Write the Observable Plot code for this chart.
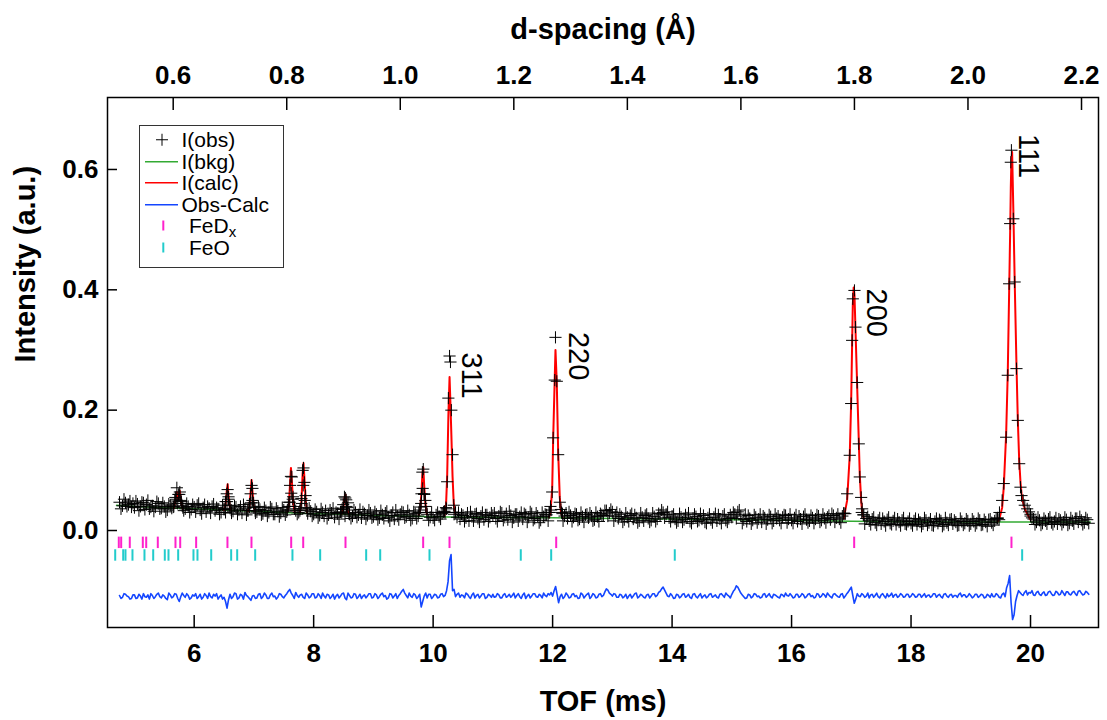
<!DOCTYPE html>
<html><head><meta charset="utf-8">
<script src="https://cdn.jsdelivr.net/npm/d3@7"></script>
<script src="https://cdn.jsdelivr.net/npm/@observablehq/plot@0.6"></script>
<style>
body{margin:0;background:#fff;}
#wrap{position:relative;width:1107px;height:720px;font-family:"Liberation Sans",Arial,Helvetica,sans-serif;}
#legend{position:absolute;left:139px;top:125px;width:145px;height:143px;box-sizing:border-box;border:1px solid #333;background:#fff;padding-top:3px;}
.row{position:relative;height:21.5px;color:#000;}
.row svg{position:absolute;left:5px;top:0;}
.row span{position:absolute;left:41.5px;top:0;display:inline-block;height:21px;line-height:21px;font-size:21px;white-space:nowrap;overflow:visible;}
.row span.ind{left:49px;}
.row sub{font-size:15px;vertical-align:-4px;line-height:0;}
</style></head>
<body><div id="wrap"></div>
<script>
// ---------- data ----------
// observed intensity on a regular TOF grid (ms): first bin 4.75, bin width 0.05; null = under a strong peak (listed below)
const tofStart = 4.75, tofStep = 0.05;
const obsBand = [
0.047,0.041,0.046,0.043,0.039,
0.038,0.044,0.040,0.046,0.043,0.036,0.041,0.039,0.045,0.037,0.040,0.034,0.042,0.039,0.052,0.060,0.041,0.036,0.040,0.035,
0.039,0.042,0.034,0.038,0.031,0.037,0.040,0.033,0.036,0.030,0.035,0.048,0.037,0.032,0.039,0.034,0.029,0.036,0.033,0.046,
0.038,0.031,0.035,0.028,0.033,0.030,0.036,0.027,0.032,0.029,0.034,0.031,0.047,0.052,0.033,0.030,0.045,0.050,0.028,0.032,
0.027,0.031,0.025,0.030,0.033,0.026,0.029,0.022,0.028,0.031,0.037,0.040,0.027,0.024,0.030,0.026,0.021,0.028,0.025,0.029,
0.023,0.027,0.021,0.026,0.029,0.022,0.025,0.019,0.024,0.027,0.030,0.023,0.026,0.020,0.028,0.024,0.045,0.060,0.027,0.022,
0.021,0.026,0.023,0.028,0.030,null,null,0.027,0.022,0.019,0.025,0.021,0.016,0.023,0.027,0.020,0.024,0.018,0.026,0.022,
0.025,0.020,0.024,0.029,0.022,0.018,0.025,0.021,0.027,0.023,0.019,0.026,0.022,0.028,0.020,0.024,0.017,0.023,0.026,0.030,
null,null,null,0.030,0.024,0.020,0.025,0.022,0.027,0.019,0.023,0.026,0.021,0.024,0.018,0.023,0.028,0.025,0.033,0.029,
0.031,0.024,0.020,0.023,0.018,0.022,0.025,0.019,0.021,0.016,0.022,0.025,0.020,0.017,0.023,0.019,0.026,0.030,0.027,0.021,
0.024,0.019,0.016,0.022,0.018,0.021,0.015,0.020,0.023,0.017,0.019,0.014,0.021,0.018,0.022,0.016,0.019,0.024,0.017,0.020,
0.022,0.027,0.031,0.024,0.018,0.015,0.020,0.017,0.022,0.019,0.014,0.021,0.018,0.023,0.016,0.020,0.017,0.022,0.025,0.019,
0.017,0.021,0.015,0.019,0.023,0.018,0.016,0.021,0.019,0.024,0.017,0.020,0.022,0.018,0.025,0.021,0.019,0.024,0.028,null,
null,null,null,null,0.026,0.020,0.016,0.019,0.013,0.017,0.011,0.015,0.018,0.012,0.016,0.010,0.014,0.017,0.011,0.015,
0.012,0.016,0.010,0.014,0.011,0.017,0.013,0.009,0.015,0.012,0.016,0.010,0.013,0.018,0.011,0.014,0.009,0.015,0.012,0.016,
0.011,0.015,0.012,0.017,0.010,0.014,0.018,0.013,0.016,0.021,null,null,null,null,null,null,null,null,null,null,
0.024,0.019,0.014,0.017,0.012,0.016,0.019,0.013,0.015,0.011,0.017,0.014,0.018,0.012,0.016,0.020,0.014,0.017,0.013,0.018
];
// the in-between bins (first bin 4.775, same width)
const tofStart2 = 4.775;
const obsBand2 = [
0.036,0.052,0.040,0.049,0.045,
0.049,0.033,0.047,0.035,0.050,0.039,0.032,0.048,0.036,0.046,0.031,0.044,0.037,0.049,0.045,0.050,0.033,0.045,0.030,0.043,
0.031,0.045,0.028,0.043,0.040,0.029,0.044,0.038,0.027,0.042,0.030,0.052,0.029,0.041,0.027,0.040,0.043,0.026,0.039,0.050,
0.029,0.040,0.026,0.038,0.024,0.039,0.027,0.037,0.023,0.038,0.026,0.040,0.062,0.040,0.027,0.036,0.075,0.038,0.037,0.024,
0.035,0.021,0.036,0.024,0.020,0.034,0.037,0.030,0.019,0.035,0.024,0.046,0.020,0.034,0.022,0.035,0.031,0.019,0.034,0.021,
0.031,0.018,0.033,0.020,0.032,0.016,0.030,0.034,0.018,0.031,0.021,0.033,0.017,0.031,0.020,0.034,0.070,0.040,0.017,0.030,
0.017,0.030,0.019,0.031,0.036,null,null,0.030,0.030,0.027,0.015,0.029,0.031,0.016,0.028,0.014,0.030,0.026,0.015,0.029,
0.029,0.015,0.031,0.017,0.028,0.032,0.014,0.027,0.016,0.030,0.028,0.014,0.031,0.017,0.029,0.013,0.030,0.027,0.016,0.034,
null,null,null,0.016,0.029,0.031,0.015,0.028,0.017,0.030,0.014,0.027,0.029,0.016,0.030,0.015,0.026,0.033,0.024,0.035,
0.016,0.030,0.027,0.014,0.029,0.015,0.028,0.026,0.013,0.029,0.016,0.027,0.014,0.029,0.015,0.028,0.034,0.021,0.031,0.015,
0.027,0.013,0.028,0.014,0.026,0.029,0.012,0.027,0.015,0.028,0.025,0.012,0.027,0.013,0.028,0.026,0.012,0.027,0.014,0.026,
0.030,0.020,0.034,0.012,0.027,0.025,0.011,0.026,0.013,0.027,0.024,0.011,0.026,0.012,0.027,0.024,0.012,0.026,0.013,0.027,
0.012,0.026,0.024,0.011,0.027,0.013,0.025,0.012,0.026,0.014,0.027,0.013,0.025,0.028,0.014,0.027,0.013,0.029,null,null,
null,null,null,0.030,0.011,0.023,0.010,0.022,0.009,0.021,0.020,0.008,0.022,0.010,0.021,0.019,0.008,0.021,0.010,0.020,
0.008,0.020,0.018,0.007,0.021,0.009,0.019,0.008,0.020,0.018,0.007,0.021,0.009,0.019,0.017,0.008,0.020,0.009,0.019,0.008,
0.019,0.008,0.020,0.009,0.018,0.007,0.019,0.009,0.020,0.018,null,null,null,null,null,null,null,null,null,null,
0.021,0.010,0.022,0.009,0.020,0.011,0.022,0.010,0.021,0.019,0.010,0.022,0.009,0.021,0.011,0.020,0.023,0.010,0.021,0.012
];
// Obs-Calc difference curve (already offset as plotted), bins as obsBand
const diffBand = [
-0.108,-0.111,-0.106,-0.110,-0.113,
-0.107,-0.112,-0.109,-0.105,-0.111,-0.114,-0.108,-0.110,-0.104,-0.112,-0.109,-0.115,-0.107,-0.110,-0.106,-0.118,-0.104,-0.111,-0.108,-0.112,
-0.109,-0.113,-0.106,-0.111,-0.108,-0.104,-0.112,-0.109,-0.114,-0.107,-0.111,-0.129,-0.106,-0.110,-0.105,-0.112,-0.108,-0.103,-0.110,-0.116,
-0.108,-0.112,-0.105,-0.110,-0.107,-0.113,-0.104,-0.109,-0.111,-0.106,-0.112,-0.105,-0.098,-0.108,-0.103,-0.111,-0.106,-0.113,-0.107,-0.110,
-0.105,-0.111,-0.108,-0.104,-0.112,-0.107,-0.110,-0.114,-0.106,-0.109,-0.104,-0.115,-0.108,-0.111,-0.106,-0.110,-0.113,-0.107,-0.109,-0.105,
-0.111,-0.107,-0.110,-0.104,-0.108,-0.112,-0.106,-0.109,-0.113,-0.105,-0.098,-0.108,-0.104,-0.111,-0.107,-0.110,-0.127,-0.109,-0.112,-0.106,
-0.110,-0.107,-0.111,-0.105,-0.108,-0.085,-0.040,-0.098,-0.106,-0.111,-0.108,-0.104,-0.110,-0.107,-0.112,-0.106,-0.109,-0.105,-0.111,-0.108,
-0.106,-0.110,-0.107,-0.112,-0.105,-0.109,-0.111,-0.104,-0.108,-0.110,-0.107,-0.113,-0.106,-0.109,-0.105,-0.111,-0.108,-0.104,-0.110,-0.107,
-0.109,-0.093,-0.120,-0.106,-0.110,-0.107,-0.111,-0.105,-0.108,-0.112,-0.106,-0.109,-0.104,-0.110,-0.107,-0.111,-0.105,-0.108,-0.097,-0.104,
-0.109,-0.106,-0.111,-0.107,-0.110,-0.113,-0.106,-0.109,-0.104,-0.110,-0.108,-0.112,-0.106,-0.109,-0.105,-0.108,-0.101,-0.094,-0.104,-0.110,
-0.108,-0.112,-0.107,-0.110,-0.105,-0.109,-0.111,-0.106,-0.110,-0.108,-0.112,-0.107,-0.110,-0.105,-0.109,-0.111,-0.106,-0.108,-0.104,-0.109,
-0.106,-0.098,-0.094,-0.104,-0.110,-0.112,-0.107,-0.110,-0.106,-0.109,-0.111,-0.105,-0.108,-0.110,-0.106,-0.109,-0.112,-0.107,-0.104,-0.109,
-0.108,-0.111,-0.106,-0.109,-0.107,-0.110,-0.105,-0.108,-0.111,-0.106,-0.109,-0.107,-0.104,-0.110,-0.106,-0.108,-0.111,-0.105,-0.109,-0.102,
-0.094,-0.121,-0.105,-0.110,-0.107,-0.109,-0.112,-0.106,-0.108,-0.110,-0.107,-0.109,-0.105,-0.108,-0.111,-0.106,-0.109,-0.107,-0.110,-0.106,
-0.109,-0.107,-0.110,-0.106,-0.108,-0.111,-0.107,-0.109,-0.105,-0.108,-0.110,-0.106,-0.109,-0.107,-0.111,-0.108,-0.106,-0.110,-0.107,-0.109,
-0.108,-0.110,-0.106,-0.109,-0.107,-0.111,-0.108,-0.105,-0.110,-0.107,-0.112,-0.104,-0.095,-0.075,-0.148,-0.118,-0.100,-0.106,-0.103,-0.107,
-0.104,-0.107,-0.103,-0.106,-0.104,-0.108,-0.102,-0.105,-0.107,-0.103,-0.106,-0.104,-0.102,-0.106,-0.103,-0.105,-0.101,-0.104,-0.106,-0.103
];
// Obs-Calc on the in-between bins (as obsBand2)
const diffBand2 = [
-0.113,-0.105,-0.109,-0.114,-0.107,
-0.113,-0.106,-0.114,-0.110,-0.107,-0.105,-0.113,-0.106,-0.110,-0.107,-0.113,-0.104,-0.112,-0.105,-0.113,-0.110,-0.108,-0.105,-0.114,-0.107,
-0.105,-0.110,-0.114,-0.105,-0.113,-0.110,-0.106,-0.105,-0.110,-0.114,-0.118,-0.115,-0.113,-0.104,-0.114,-0.106,-0.114,-0.108,-0.113,-0.109,
-0.113,-0.106,-0.113,-0.104,-0.113,-0.107,-0.110,-0.114,-0.105,-0.110,-0.108,-0.101,-0.104,-0.113,-0.108,-0.107,-0.111,-0.104,-0.112,-0.105,
-0.112,-0.105,-0.113,-0.109,-0.106,-0.113,-0.106,-0.109,-0.112,-0.105,-0.112,-0.104,-0.112,-0.105,-0.113,-0.106,-0.109,-0.112,-0.105,-0.112,
-0.105,-0.113,-0.106,-0.110,-0.114,-0.105,-0.112,-0.105,-0.108,-0.101,-0.104,-0.112,-0.109,-0.105,-0.113,-0.106,-0.118,-0.104,-0.106,-0.113,
-0.106,-0.112,-0.106,-0.110,-0.100,-0.050,-0.100,-0.110,-0.104,-0.107,-0.112,-0.106,-0.113,-0.104,-0.108,-0.112,-0.105,-0.113,-0.106,-0.111,
-0.111,-0.105,-0.112,-0.107,-0.111,-0.106,-0.108,-0.112,-0.105,-0.113,-0.104,-0.109,-0.112,-0.105,-0.110,-0.106,-0.112,-0.108,-0.105,-0.103,
-0.100,-0.106,-0.110,-0.113,-0.104,-0.112,-0.106,-0.110,-0.113,-0.104,-0.112,-0.106,-0.113,-0.105,-0.112,-0.106,-0.110,-0.102,-0.099,-0.106,
-0.105,-0.111,-0.106,-0.112,-0.106,-0.109,-0.112,-0.105,-0.112,-0.106,-0.111,-0.107,-0.112,-0.105,-0.110,-0.103,-0.097,-0.099,-0.109,-0.105,
-0.113,-0.106,-0.112,-0.106,-0.111,-0.106,-0.113,-0.105,-0.112,-0.105,-0.109,-0.112,-0.106,-0.111,-0.107,-0.112,-0.105,-0.111,-0.107,-0.112,
-0.101,-0.092,-0.099,-0.107,-0.113,-0.106,-0.112,-0.105,-0.110,-0.112,-0.106,-0.111,-0.105,-0.112,-0.107,-0.111,-0.106,-0.110,-0.108,-0.105,
-0.112,-0.106,-0.111,-0.105,-0.112,-0.106,-0.110,-0.112,-0.105,-0.111,-0.105,-0.111,-0.107,-0.112,-0.105,-0.110,-0.106,-0.112,-0.105,-0.098,
-0.108,-0.114,-0.109,-0.105,-0.111,-0.104,-0.107,-0.111,-0.104,-0.112,-0.105,-0.112,-0.110,-0.104,-0.107,-0.111,-0.105,-0.111,-0.106,-0.111,
-0.105,-0.111,-0.106,-0.111,-0.105,-0.108,-0.111,-0.105,-0.111,-0.106,-0.112,-0.105,-0.111,-0.106,-0.108,-0.111,-0.104,-0.107,-0.111,-0.105,
-0.112,-0.106,-0.111,-0.106,-0.112,-0.106,-0.111,-0.110,-0.105,-0.111,-0.106,-0.110,-0.088,-0.120,-0.140,-0.108,-0.103,-0.108,-0.100,-0.103,
-0.100,-0.108,-0.101,-0.108,-0.102,-0.107,-0.101,-0.108,-0.101,-0.107,-0.100,-0.108,-0.102,-0.107,-0.101,-0.108,-0.100,-0.107,-0.101,-0.106
];
// background curve nodes
const bkgTOF = [4.7,5,5.5,6,6.5,7,7.5,8,8.5,9,9.5,10,10.5,11,12,13,14,15,16,17,18,19,20,21];
const bkgI   = [0.042,0.040,0.038,0.036,0.034,0.032,0.030,0.028,0.027,0.025,0.024,0.023,0.022,0.022,0.021,0.020,0.019,0.018,0.017,0.0155,0.0145,0.014,0.014,0.014];
// Bragg peaks: observed points and calculated profile (one list per peak)
const peakTOF = [
 [5.66,5.685,5.71,5.735,5.76,5.785,5.81],
 [6.50,6.525,6.545,6.56,6.575,6.595,6.62],
 [6.90,6.925,6.945,6.96,6.975,6.995,7.02],
 [7.56,7.585,7.605,7.62,7.635,7.655,7.68],
 [7.77,7.795,7.815,7.83,7.845,7.865,7.89],
 [8.47,8.495,8.515,8.53,8.545,8.565,8.59],
 [9.76,9.785,9.805,9.82,9.835,9.85,9.87,9.895],
 [10.19,10.215,10.235,10.255,10.275,10.29,10.305,10.325,10.345,10.37],
 [11.94,11.964,11.993,12.009,12.036,12.048,12.07,12.093,12.12,12.14,12.165],
 [16.874,16.93,16.974,16.998,17.014,17.025,17.04,17.053,17.07,17.098,17.125,17.142,17.165,17.182,17.21],
 [19.45,19.48,19.525,19.552,19.592,19.619,19.642,19.659,19.670,19.680,19.692,19.712,19.735,19.765,19.787,19.810,19.832,19.849,19.877,19.904,19.944,19.975,20.00]
];
const peakObs = [
 [0.040,0.055,0.071,0.060,0.064,0.048,0.038],
 [0.036,0.048,0.061,0.068,0.056,0.042,0.034],
 [0.033,0.044,0.061,0.075,0.070,0.046,0.033],
 [0.034,0.047,0.075,0.090,0.089,0.056,0.036],
 [0.033,0.053,0.100,0.104,0.080,0.058,0.034],
 [0.030,0.043,0.056,0.054,0.051,0.038,0.028],
 [0.030,0.039,0.061,0.097,0.102,0.061,0.050,0.030],
 [0.032,0.038,0.081,0.220,0.290,0.280,0.200,0.126,0.042,0.030],
 [0.030,0.040,0.064,0.154,0.250,0.321,0.248,0.126,0.047,0.035,0.028],
 [0.028,0.061,0.125,0.211,0.316,0.385,null,0.399,0.338,0.246,0.144,0.089,0.055,0.036,0.026],
 [0.020,0.030,0.050,0.078,0.155,0.258,0.410,0.510,0.612,0.632,null,0.518,0.413,0.269,0.183,0.111,0.072,0.058,0.050,0.042,0.036,0.031,0.027]
];
const peakCalc = [
 [0.037,0.050,0.064,0.052,0.066,0.045,0.036],
 [0.034,0.042,0.066,0.077,0.058,0.040,0.034],
 [0.032,0.040,0.064,0.084,0.066,0.042,0.032],
 [0.031,0.042,0.078,0.104,0.082,0.048,0.031],
 [0.030,0.048,0.094,0.112,0.088,0.052,0.030],
 [0.028,0.036,0.054,0.060,0.050,0.034,0.027],
 [0.026,0.036,0.064,0.094,0.105,0.075,0.045,0.027],
 [0.025,0.040,0.090,0.190,0.255,0.210,0.160,0.090,0.045,0.028],
 [0.022,0.030,0.070,0.150,0.255,0.300,0.245,0.130,0.055,0.030,0.022],
 [0.020,0.050,0.125,0.215,0.312,0.375,0.404,0.392,0.335,0.240,0.150,0.092,0.050,0.030,0.020],
 [0.015,0.020,0.038,0.072,0.160,0.262,0.395,0.495,0.570,0.615,0.629,0.535,0.415,0.275,0.185,0.118,0.080,0.062,0.046,0.036,0.028,0.022,0.018]
];
// reflection markers (TOF, ms)
const fedTOF = [4.738,4.778,4.922,5.140,5.197,5.391,5.687,5.766,6.033,6.557,6.959,7.624,7.825,8.533,9.833,10.274,12.060,17.048,19.681];
const feoTOF = [4.678,4.812,4.850,4.967,5.168,5.314,5.508,5.570,5.732,5.988,6.055,6.285,6.619,6.720,7.021,7.645,8.109,8.879,9.114,9.939,11.467,11.976,14.045,19.860];
const fedRow = [-0.011, -0.030];
const feoRow = [-0.032, -0.051];
// hkl annotations
const hklLabels = ["311","220","200","111"];
const hklTOF = [10.49, 12.27, 17.265, 19.815];
const hklI   = [0.296, 0.330, 0.402, 0.659];
// axes
const xTicks = [6,8,10,12,14,16,18,20];
const dTicks = [0.6,0.8,1.0,1.2,1.4,1.6,1.8,2.0,2.2];
const yTicks = [0.0,0.2,0.4,0.6];
const xDomain = [4.549, 21.138];
const yDomain = [-0.1612, 0.7196];
// d-spacing (Å) <-> TOF (ms) calibration
const dToTof = d => 9.503 * d - 0.053;
const tofToD = t => (t + 0.053) / 9.503;

// ---------- build tables ----------
const onGrid = (arr, t0) => arr.map((v, i) => ({t: t0 + i * tofStep, v}));
const band = onGrid(obsBand, tofStart).concat(onGrid(obsBand2, tofStart2)).filter(d => d.v != null);
const diff = onGrid(diffBand, tofStart).concat(onGrid(diffBand2, tofStart2)).sort((a, b) => a.t - b.t);
const bkg = bkgTOF.map((t, i) => ({t, v: bkgI[i]}));
const peakObsRows = [], peakCalcRows = [];
peakTOF.forEach((arr, g) => arr.forEach((t, j) => {
  if (peakObs[g][j] != null) peakObsRows.push({t, v: peakObs[g][j]});
  peakCalcRows.push({t, v: peakCalc[g][j], g});
}));
const obsRows = band.concat(peakObsRows);

const W = 1107, H = 720, mL = 107, mR = 9, mT = 97, mB = 93;
const innerW = W - mL - mR, innerH = H - mT - mB;
const FONT = "'Liberation Sans', Arial, Helvetica, sans-serif";
const GREEN = "#33aa33", RED = "#ff0000", BLUE = "#1446ff", MAG = "#ff22cc", CYAN = "#22cccc";

const chart = Plot.plot({
  width: W, height: H,
  marginLeft: mL, marginRight: mR, marginTop: mT, marginBottom: mB,
  x: {domain: xDomain},
  y: {domain: yDomain},
  style: {fontFamily: FONT, fontSize: "26px", color: "#000", background: "#fff", overflow: "visible"},
  marks: [
    Plot.line(bkg, {x: "t", y: "v", stroke: GREEN, strokeWidth: 1.5}),
    Plot.line(peakCalcRows, {x: "t", y: "v", z: "g", stroke: RED, strokeWidth: 2}),
    Plot.dot(obsRows, {x: "t", y: "v", symbol: "plus", r: 4, stroke: "#000", strokeWidth: 1}),
    Plot.line(diff, {x: "t", y: "v", stroke: BLUE, strokeWidth: 1.6}),
    Plot.ruleX(fedTOF, {x: d => d, y1: fedRow[0], y2: fedRow[1], stroke: MAG, strokeWidth: 2}),
    Plot.ruleX(feoTOF, {x: d => d, y1: feoRow[0], y2: feoRow[1], stroke: CYAN, strokeWidth: 2}),
    Plot.text(hklLabels, {x: (d, i) => hklTOF[i], y: (d, i) => hklI[i], text: d => d, rotate: 90,
      textAnchor: "start", lineAnchor: "bottom", fontSize: 29, fontWeight: "normal", fill: "#000"}),
    Plot.frame({stroke: "#000", strokeWidth: 1.5}),
    Plot.tickX(xTicks, {x: d => d, insetTop: innerH - 12, stroke: "#000", strokeWidth: 1.5}),
    Plot.tickX(dTicks.map(dToTof), {x: d => d, insetBottom: innerH - 13, stroke: "#000", strokeWidth: 1.5}),
    Plot.tickY(yTicks, {y: d => d, insetRight: innerW - 10, stroke: "#000", strokeWidth: 1.5}),
    Plot.axisX(xTicks, {anchor: "bottom", tickSize: 0, tickPadding: 16, tickFormat: d => String(d),
      label: null, fontSize: 26, fontWeight: "bold"}),
    Plot.axisX(dTicks.map(dToTof), {anchor: "top", tickSize: 0, tickPadding: 14,
      tickFormat: t => tofToD(t).toFixed(1), label: null, fontSize: 26, fontWeight: "bold"}),
    Plot.axisY(yTicks, {anchor: "left", tickSize: 0, tickPadding: 9, tickFormat: d => d.toFixed(1),
      label: null, fontSize: 26, fontWeight: "bold"}),
    Plot.text(["TOF (ms)"], {frameAnchor: "bottom", dy: 83, lineAnchor: "bottom", text: d => d,
      fontSize: 29, fontWeight: "bold", fill: "#000"}),
    Plot.text(["d-spacing (Å)"], {frameAnchor: "top", dy: -59, lineAnchor: "bottom", text: d => d,
      fontSize: 29, fontWeight: "bold", fill: "#000"}),
    Plot.text(["Intensity (a.u.)"], {frameAnchor: "left", dx: -73, rotate: -90, lineAnchor: "bottom", text: d => d,
      fontSize: 29, fontWeight: "bold", fill: "#000"})
  ]
});
const wrap = document.getElementById("wrap");
wrap.appendChild(chart);

// ---------- legend ----------
const legendItems = [
  {label: "I(obs)", kind: "plus", color: "#000"},
  {label: "I(bkg)", kind: "line", color: GREEN},
  {label: "I(calc)", kind: "line", color: RED},
  {label: "Obs-Calc", kind: "line", color: BLUE},
  {label: "FeD<sub>x</sub>", kind: "tick", color: MAG},
  {label: "FeO", kind: "tick", color: CYAN}
];
const lg = document.createElement("div");
lg.id = "legend";
lg.innerHTML = legendItems.map(it => {
  let sym = "";
  if (it.kind === "plus") sym = `<path d="M11,10.75H23M17,4.75V16.75" stroke="${it.color}" stroke-width="1"/>`;
  else if (it.kind === "line") sym = `<path d="M0,10.75H33" stroke="${it.color}" stroke-width="1.5"/>`;
  else sym = `<path d="M18.3,5.5V15.5" stroke="${it.color}" stroke-width="2"/>`;
  return `<div class="row"><svg width="34" height="21.5">${sym}</svg><span class="${it.kind === "tick" ? "ind" : ""}">${it.label}</span></div>`;
}).join("");
wrap.appendChild(lg);
</script></body></html>
